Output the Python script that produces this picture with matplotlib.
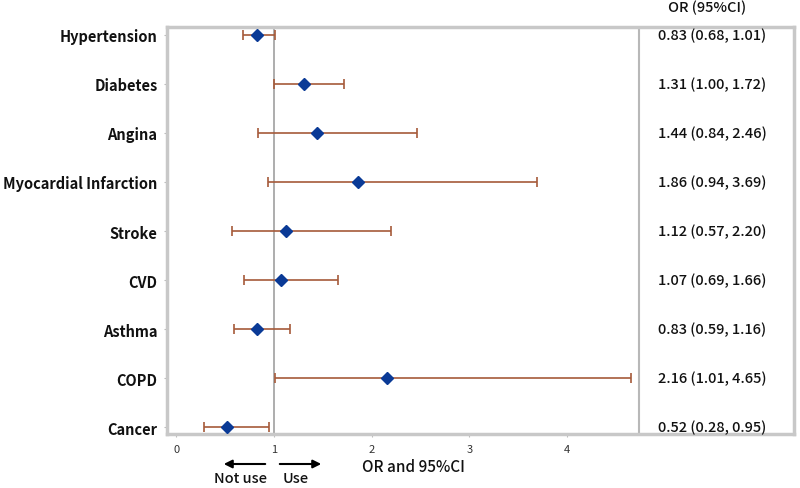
import matplotlib
import matplotlib.pyplot as plt
import numpy as np

matplotlib.use("Agg")

labels = ["Hypertension", "Diabetes", "Angina", "Myocardial Infarction", "Stroke",
          "CVD", "Asthma", "COPD", "Cancer"]
odds = [0.83, 1.31, 1.44, 1.86, 1.12, 1.07, 0.83, 2.16, 0.52]
ci_low = [0.68, 1.00, 0.84, 0.94, 0.57, 0.69, 0.59, 1.01, 0.28]
ci_high = [1.01, 1.72, 2.46, 3.69, 2.20, 1.66, 1.16, 4.65, 0.95]
xticks = [0, 1, 2, 3, 4]

plt.rcParams["font.family"] = ["Noto Sans CJK JP", "DejaVu Sans"]

fig = plt.figure(figsize=(8, 4.89), dpi=100)
ax = fig.add_axes([0.209, 0.1104, 0.7835, 0.8323])

y = np.arange(len(labels))
odds = np.array(odds)
err = [odds - np.array(ci_low), np.array(ci_high) - odds]

ax.axvline(1, color="#a0a0a0", linewidth=1.2, zorder=1)
ax.axvline(4.73, color="#b8b8b8", linewidth=1.5, zorder=1)
ax.errorbar(odds, y, xerr=err, fmt="none", ecolor="#a65a3a", elinewidth=1.2,
            capsize=3.3, capthick=1.2, zorder=2)
ax.plot(odds, y, "D", color="#0a3a96", markersize=6.5, zorder=3)

# table of OR (95%CI) on the right
for yi, o, lo, hi in zip(y, odds, ci_low, ci_high):
    ax.text(5.48, yi, f"{o:.2f} ({lo:.2f}, {hi:.2f})", ha="center", va="center",
            fontsize=10.5, fontweight="medium", color="#111111")
ax.text(5.43, -0.57, "OR (95%CI)", ha="center", va="center", fontsize=10.5,
        fontweight="medium", color="#111111", clip_on=False)

ax.set_xlim(-0.092, 6.32)
ax.set_ylim(8.14, -0.16)
ax.set_xticks(xticks)
ax.set_xticklabels([str(t) for t in xticks], fontsize=8, color="#333333")
ax.set_yticks(y)
ax.set_yticklabels(labels, fontsize=10.5, fontweight="bold", color="#111111")
ax.tick_params(axis="both", length=2, color="#bbbbbb", pad=5)
for s in ax.spines.values():
    s.set_color("#c8c8c8")
    s.set_linewidth(2.5)

# direction arrows below the axis
fig.text(413 / 800, 1 - 468 / 489, "OR and 95%CI", ha="center", va="center",
         fontsize=11, fontweight="medium", color="#111111")
ax.annotate("", xy=(221 / 800, 1 - 465 / 489), xytext=(268 / 800, 1 - 465 / 489),
            xycoords="figure fraction",
            arrowprops=dict(arrowstyle="-|>", color="black", lw=1.5, mutation_scale=12))
ax.annotate("", xy=(324 / 800, 1 - 465 / 489), xytext=(277 / 800, 1 - 465 / 489),
            xycoords="figure fraction",
            arrowprops=dict(arrowstyle="-|>", color="black", lw=1.5, mutation_scale=12))
fig.text(240 / 800, 1 - 479 / 489, "Not use", ha="center", va="center",
         fontsize=10.5, fontweight="medium", color="#111111")
fig.text(296 / 800, 1 - 479 / 489, "Use", ha="center", va="center",
         fontsize=10.5, fontweight="medium", color="#111111")

fig.savefig("out.png", dpi=100)
